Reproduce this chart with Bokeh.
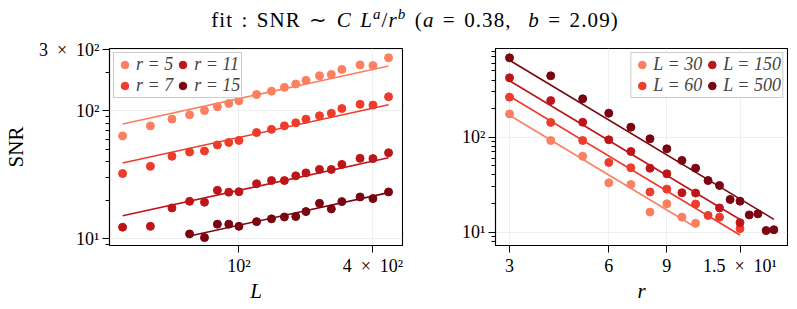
import numpy as np
from bokeh.plotting import figure
from bokeh.models import FixedTicker, Div, Legend, LegendItem
from bokeh.layouts import row, column
from bokeh.embed import file_html
from bokeh.resources import INLINE

# ---------------- data ----------------
A_EXP = 0.38
B_EXP = 2.09

# left panel: SNR vs L for fixed r
L_VALUES = [30, 40, 50, 60, 70, 80, 90, 100, 120, 140, 160, 180, 200, 230, 260, 290, 350, 400, 470]
SNR_R5 = [63.6, 76.2, 86.1, 93.0, 100.5, 107.5, 114.0, 119.8, 134.0, 142.5, 152.5, 162.0, 173.0, 188.0, 192.5, 210.5, 228.6, 225.7, 260.0]
SNR_R7 = [32.3, 36.8, 44.1, 47.6, 48.5, 54.1, 56.6, 58.7, 67.6, 71.6, 76.3, 80.5, 86.0, 91.4, 95.6, 104.2, 112.5, 110.8, 128.8]
SNR_R11 = [12.3, 12.5, 17.4, 19.6, 19.3, 23.9, 23.1, 23.3, 26.9, 28.5, 28.5, 31.0, 32.7, 34.8, 34.8, 38.1, 42.5, 42.3, 47.0]
L_R15 = [60, 70, 80, 90, 100, 120, 140, 160, 180, 200, 230, 260, 290, 350, 400, 470]
SNR_R15 = [10.9, 10.2, 13.0, 13.0, 12.5, 13.6, 14.3, 14.8, 14.9, 16.3, 18.9, 17.1, 19.5, 21.2, 20.6, 23.2]

# right panel: SNR vs r for fixed L
R_L30 = [3, 4, 5, 6, 7, 8, 9, 10, 11]
SNR_L30 = [176, 92.3, 63.1, 33.1, 31.8, 16.3, 19.9, 14.4, 12.4]
R_L60 = [3, 4, 5, 6, 7, 8, 9, 11, 12, 13, 15]
SNR_L60 = [264, 143, 92.3, 54.2, 47.7, 26.5, 28.4, 19.8, 15.0, 14.4, 10.9]
R_L150 = [3, 4, 5, 6, 7, 8, 9, 10, 11, 13, 15]
SNR_L150 = [422, 243, 143.8, 94.0, 70.7, 47.2, 41.2, 26.0, 25.8, 18.0, 12.6]
R_L500 = [3, 4, 5, 6, 7, 8, 9, 10, 11, 12, 13, 14, 15, 16, 17, 18, 19]
SNR_L500 = [685, 443, 253.6, 179, 127.5, 96.2, 75.5, 56.9, 47.2, 35.0, 31.0, 22.1, 21.2, 15.2, 15.6, 10.4, 10.6]

COLORS = ["#fc7f5f", "#ef3b2c", "#bd151a", "#7a0510"]
SERIF = "Liberation Serif"
SP = "\u2002"  # en space, mimics TeX spacing around ×

left_series = [
    ("r = 5", L_VALUES, SNR_R5),
    ("r = 7", L_VALUES, SNR_R7),
    ("r = 11", L_VALUES, SNR_R11),
    ("r = 15", L_R15, SNR_R15),
]
right_series = [
    ("L = 30", R_L30, SNR_L30),
    ("L = 60", R_L60, SNR_L60),
    ("L = 150", R_L150, SNR_L150),
    ("L = 500", R_L500, SNR_L500),
]


def style(p):
    p.outline_line_color = "black"
    p.outline_line_width = 1.1
    p.background_fill_color = "white"
    p.border_fill_color = "white"
    for ax in (p.xaxis[0], p.yaxis[0]):
        ax.axis_line_color = "black"
        ax.axis_line_width = 1.1
        ax.major_tick_line_color = "black"
        ax.minor_tick_line_color = "black"
        ax.major_tick_out = 7
        ax.major_tick_in = 0
        ax.minor_tick_out = 4
        ax.minor_tick_in = 0
        ax.major_label_text_font = SERIF
        ax.major_label_text_font_size = "18px"
        ax.major_label_text_color = "black"
        ax.axis_label_text_font = SERIF
        ax.axis_label_text_font_size = "21px"
        ax.axis_label_text_color = "black"
        ax.axis_label_text_font_style = "normal"
    p.xaxis.major_label_standoff = 3
    p.yaxis.major_label_standoff = 3
    p.xgrid.grid_line_color = "#ebebeb"
    p.ygrid.grid_line_color = "#ebebeb"
    p.xgrid.grid_line_width = 0.8
    p.ygrid.grid_line_width = 0.8


def make_legend(p, items, loc):
    leg = Legend(items=items, location=loc, ncols=2)
    leg.label_text_font = SERIF
    leg.label_text_font_size = "18px"
    leg.label_text_font_style = "italic"
    leg.glyph_width = 19
    leg.glyph_height = 19
    leg.label_standoff = 2
    leg.label_width = 36
    leg.label_height = 19
    leg.spacing = 0
    leg.padding = 1
    leg.margin = 4
    leg.border_line_color = "#9a9a9a"
    leg.border_line_width = 1
    leg.background_fill_alpha = 0.9
    p.add_layout(leg)


# ---------------- left panel ----------------
p1 = figure(frame_width=293, frame_height=197, x_axis_type="log", y_axis_type="log",
            x_range=(26.2, 543), y_range=(8.85, 307),
            min_border_left=102, min_border_right=37, min_border_top=16, min_border_bottom=45,
            output_backend="svg", toolbar_location=None)
style(p1)
items1 = []
for (lab, xs, ys), col in zip(left_series, COLORS):
    xs = np.array(xs, dtype=float)
    ys = np.array(ys, dtype=float)
    logc = np.mean(np.log10(ys) - A_EXP * np.log10(xs))
    xf = np.array([xs.min(), xs.max()])
    yf = 10 ** logc * xf ** A_EXP
    p1.line(xf, yf, line_color=col, line_width=1.6)
    r = p1.scatter(xs, ys, size=8, fill_color=col, line_color=col)
    items1.append(LegendItem(label=lab, renderers=[r]))
make_legend(p1, items1, "top_left")
p1.xaxis.ticker = FixedTicker(ticks=[100, 400], minor_ticks=[])
p1.xaxis.major_label_overrides = {100: "10²", 400: f"4{SP}×{SP}10²"}
p1.yaxis.ticker = FixedTicker(ticks=[10, 100, 300],
                              minor_ticks=[9, 20, 30, 40, 50, 60, 70, 80, 90, 200])
p1.yaxis.major_label_overrides = {10: "10¹", 100: "10²", 300: f"3{SP}×{SP}10²"}
p1.xaxis.axis_label = "L"
p1.xaxis.axis_label_text_font_style = "italic"
p1.yaxis.axis_label = "SNR"
p1.xaxis.axis_label_standoff = 0
p1.yaxis.axis_label_standoff = 8

# ---------------- right panel ----------------
p2 = figure(frame_width=292, frame_height=197, x_axis_type="log", y_axis_type="log",
            x_range=(2.72, 20.9), y_range=(7.24, 859),
            min_border_left=56, min_border_right=1, min_border_top=16, min_border_bottom=45,
            output_backend="svg", toolbar_location=None)
style(p2)
items2 = []
for (lab, xs, ys), col in zip(right_series, COLORS):
    xs = np.array(xs, dtype=float)
    ys = np.array(ys, dtype=float)
    logc = np.mean(np.log10(ys) + B_EXP * np.log10(xs))
    xf = np.array([xs.min(), xs.max()])
    yf = 10 ** logc * xf ** (-B_EXP)
    p2.line(xf, yf, line_color=col, line_width=1.6)
    r = p2.scatter(xs, ys, size=8, fill_color=col, line_color=col)
    items2.append(LegendItem(label=lab, renderers=[r]))
make_legend(p2, items2, "top_right")
p2.xaxis.ticker = FixedTicker(ticks=[3, 6, 9, 15], minor_ticks=[])
p2.xaxis.major_label_overrides = {3: "3", 6: "6", 9: "9", 15: f"1.5{SP}×{SP}10¹"}
p2.yaxis.ticker = FixedTicker(ticks=[10, 100],
                              minor_ticks=[8, 9, 20, 30, 40, 50, 60, 70, 80, 90,
                                           200, 300, 400, 500, 600, 700, 800])
p2.yaxis.major_label_overrides = {10: "10¹", 100: "10²"}
p2.xaxis.axis_label = "r"
p2.xaxis.axis_label_text_font_style = "italic"
p2.xaxis.axis_label_standoff = 0

title_html = (
    '<div style="width:781px;height:32px;box-sizing:border-box;padding-left:49px;padding-top:8px;'
    'text-align:center;font-family:\'Liberation Serif\';font-size:21px;line-height:24px;'
    'letter-spacing:1.1px;word-spacing:2px;white-space:nowrap;color:black;overflow:hidden">'
    'fit : SNR &#8764; <i>C</i> <i>L</i><sup style="font-size:15px;line-height:0"><i>a</i></sup>/'
    '<i>r</i><sup style="font-size:15px;line-height:0"><i>b</i></sup>'
    ' (<i>a</i> = 0.38,&nbsp; <i>b</i> = 2.09)</div>'
)
title = Div(text=title_html, width=781, height=32, margin=0)

layout = column(title, row(p1, p2, spacing=0), spacing=0)

open("out.html", "w").write(file_html(layout, INLINE))
